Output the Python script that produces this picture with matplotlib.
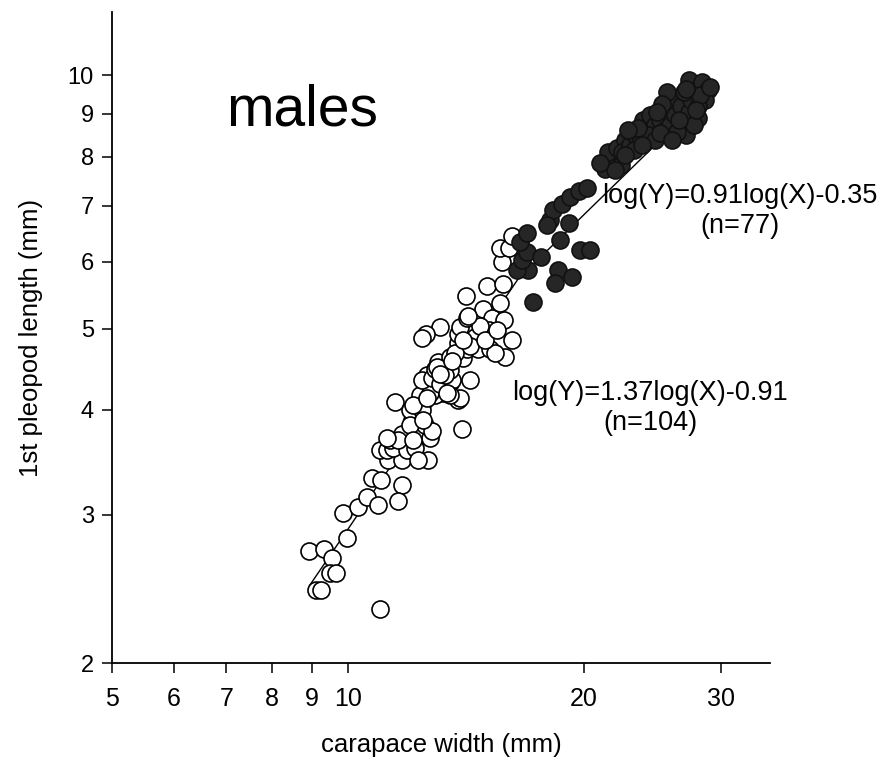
import matplotlib
matplotlib.use("Agg")
import matplotlib.pyplot as plt
import numpy as np
from matplotlib.ticker import FixedLocator, NullLocator, FixedFormatter

plt.rcParams['font.family'] = ['Liberation Sans', 'DejaVu Sans']

# open circles: smaller males (n=104)
open_cw = [8.92, 9.33, 9.55, 9.49, 9.66, 9.11, 9.25, 9.98, 9.86, 10.31,
           10.59, 10.94, 11.00, 10.74, 11.03, 11.73, 11.59, 11.26, 11.73, 11.00,
           11.23, 11.43, 11.91, 12.19, 11.33, 11.73, 12.67, 12.09, 12.26, 12.74,
           12.56, 14.00, 11.50, 12.02, 12.44, 12.56, 12.85, 13.24, 13.51, 12.92,
           13.83, 12.37, 12.74, 12.12, 12.63, 12.44, 12.81, 13.12, 13.59, 13.51,
           13.91, 13.51, 14.33, 12.92, 13.04, 13.51, 14.04, 13.83, 14.20, 14.67,
           15.20, 15.88, 16.22, 15.43, 13.83, 14.20, 14.54, 13.91, 13.12, 12.59,
           12.44, 14.20, 14.89, 15.29, 15.84, 15.16, 15.65, 14.16, 15.07, 15.79,
           15.74, 15.65, 16.07, 16.22, 14.33, 14.76, 13.71, 13.32, 12.02, 11.59,
           12.30, 14.98, 15.52, 14.24, 13.00, 13.59, 12.81, 11.23, 12.12, 12.48,
           13.39, 12.63, 14.04, 13.12]
open_pl = [2.72, 2.73, 2.67, 2.56, 2.56, 2.44, 2.44, 2.82, 3.02, 3.07,
           3.15, 3.08, 2.32, 3.32, 3.30, 3.26, 3.12, 3.49, 3.49, 3.58,
           3.58, 3.60, 3.58, 3.60, 3.68, 3.75, 3.49, 3.89, 3.75, 3.70,
           3.84, 3.80, 4.09, 4.00, 4.00, 4.30, 4.42, 4.19, 4.31, 4.17,
           4.11, 4.17, 4.19, 4.05, 4.40, 4.34, 4.37, 4.30, 4.34, 4.46,
           4.13, 4.17, 4.34, 4.48, 4.56, 4.62, 4.61, 4.80, 4.73, 4.73,
           4.73, 4.62, 4.84, 4.68, 4.92, 4.98, 4.88, 5.02, 5.02, 4.92,
           4.87, 5.15, 5.27, 5.15, 5.12, 4.98, 5.36, 5.46, 5.62, 5.65,
           6.00, 6.23, 6.23, 6.45, 4.77, 5.04, 4.68, 4.40, 3.84, 3.68,
           3.49, 4.84, 4.98, 5.18, 4.50, 4.58, 3.78, 3.70, 3.68, 3.89,
           4.19, 4.13, 4.84, 4.42]

# filled circles: larger males (n=77)
filled_cw = [17.25, 17.00, 16.46, 16.70, 16.95, 16.60, 16.95, 17.65, 18.67, 19.17,
             18.13, 18.29, 18.78, 19.23, 19.74, 20.22, 19.80, 20.40, 18.56, 19.34,
             18.40, 17.97,
             21.30, 21.74, 22.30, 21.48, 22.09, 22.60, 22.42, 22.90, 23.25, 23.60,
             23.95, 23.80, 24.30, 24.68, 24.16, 25.05, 25.43, 25.43, 24.68, 25.80,
             25.96, 25.56, 26.20, 26.60, 26.76, 27.00, 27.24, 27.40, 27.56, 27.24,
             28.04, 28.36, 28.80, 28.60, 28.04, 27.96, 27.64, 26.84, 26.30, 25.05,
             23.46, 22.78, 21.95, 23.18, 23.74, 25.96, 28.20, 29.00, 27.00, 25.20,
             24.80, 27.80, 26.50, 22.60, 21.00]
filled_pl = [5.38, 5.87, 5.87, 6.03, 6.17, 6.34, 6.50, 6.08, 6.37, 6.68,
             6.73, 6.91, 7.04, 7.16, 7.28, 7.34, 6.20, 6.20, 5.87, 5.76,
             5.66, 6.64,
             7.75, 7.93, 7.82, 8.11, 8.20, 8.37, 8.11, 8.26, 8.49, 8.32,
             8.66, 8.85, 8.97, 8.73, 8.49, 8.85, 9.09, 8.61, 8.37, 8.73,
             9.34, 9.55, 8.97, 9.21, 8.73, 8.49, 9.04, 9.34, 9.73, 9.87,
             9.65, 9.82, 9.60, 9.34, 9.21, 8.90, 8.73, 9.55, 8.56, 8.54,
             8.66, 8.61, 7.71, 8.15, 8.26, 8.37, 9.47, 9.70, 9.65, 9.26,
             9.04, 9.09, 8.85, 8.04, 7.86]

# regressions log(Y) = a log(X) + b
small_fit = (1.37, -0.91)
large_fit = (0.91, -0.35)
small_range = (8.95, 16.5)
large_range = (16.5, 28.5)

xticks = [5, 6, 7, 8, 9, 10, 20, 30]
yticks = [2, 3, 4, 5, 6, 7, 8, 9, 10]

fig = plt.figure(figsize=(8.83, 7.65), dpi=100)
ax = fig.add_axes([112 / 883, 1 - 663 / 765, (770 - 112) / 883, (663 - 12) / 765])
ax.set_xscale('log')
ax.set_yscale('log')
ax.set_xlim(5, 34.6)
ax.set_ylim(2, 11.9)

for (a, b), (x0, x1) in [(small_fit, small_range), (large_fit, large_range)]:
    xx = np.array([x0, x1])
    ax.plot(xx, 10 ** (a * np.log10(xx) + b), color='black', lw=1.0, zorder=1)

ax.scatter(open_cw, open_pl, s=150, facecolor='white', edgecolor='black',
           linewidth=1.2, zorder=2)
ax.scatter(filled_cw, filled_pl, s=150, facecolor='#262626', edgecolor='#111111',
           linewidth=1.2, zorder=3)

ax.xaxis.set_major_locator(FixedLocator(xticks))
ax.xaxis.set_major_formatter(FixedFormatter([str(t) for t in xticks]))
ax.xaxis.set_minor_locator(NullLocator())
ax.yaxis.set_major_locator(FixedLocator(yticks))
ax.yaxis.set_major_formatter(FixedFormatter([str(t) for t in yticks]))
ax.yaxis.set_minor_locator(NullLocator())

for side in ['top', 'right']:
    ax.spines[side].set_visible(False)
for side in ['left', 'bottom']:
    ax.spines[side].set_linewidth(1.3)

ax.tick_params(axis='x', direction='out', length=7, width=1.1, labelsize=18, pad=10)
ax.tick_params(axis='y', direction='out', length=7, width=1.1, labelsize=17, pad=6)

ax.set_xlabel('carapace width (mm)', fontsize=18.5, labelpad=16)
ax.set_ylabel('1st pleopod length (mm)', fontsize=18.5, labelpad=18)

fig.text(226 / 883, 1 - 126 / 765, 'males', fontsize=41, ha='left', va='baseline')
fig.text(740 / 883, 1 - 211 / 765, 'log(Y)=0.91log(X)-0.35\n(n=77)',
         fontsize=19.5, ha='center', va='center', multialignment='center')
fig.text(650 / 883, 1 - 408 / 765, 'log(Y)=1.37log(X)-0.91\n(n=104)',
         fontsize=19.5, ha='center', va='center', multialignment='center')

fig.savefig('out.png', dpi=100)
